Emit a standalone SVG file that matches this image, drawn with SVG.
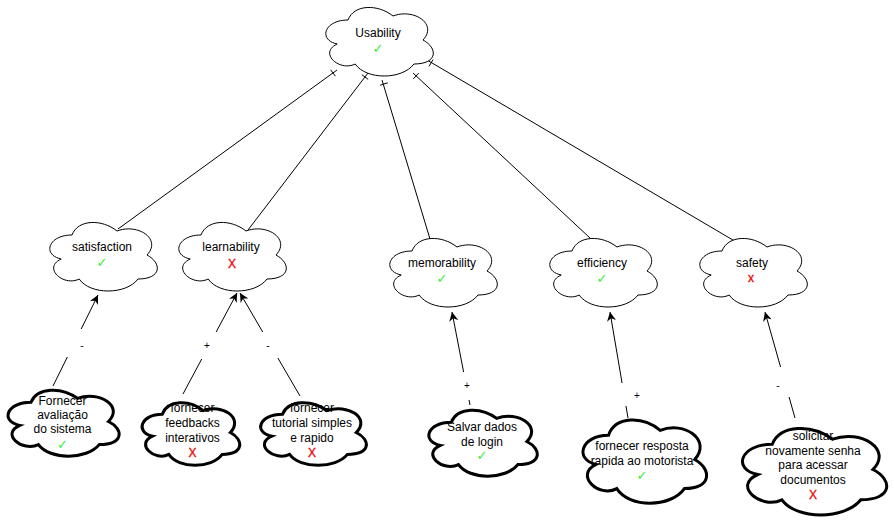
<svg xmlns="http://www.w3.org/2000/svg" xmlns:xlink="http://www.w3.org/1999/xlink" width="894" height="523" viewBox="0 0 894 523">
<style>
.c{fill:#fff;stroke:#000;vector-effect:non-scaling-stroke}
.c1{stroke-width:1}
.c3{stroke-width:3}
.t{font-family:"Liberation Sans",Arial,sans-serif;font-size:12px;fill:#000;text-anchor:middle}
.ok{font-family:"DejaVu Sans",sans-serif;font-size:13px;font-weight:bold;fill:#33ee33;text-anchor:middle}
.no{font-family:"Liberation Sans",Arial,sans-serif;font-size:12px;fill:#ee0000;text-anchor:middle;stroke:#ee0000;stroke-width:0.3}
.e{stroke:#000;stroke-width:1;fill:none}
.lb{fill:#fff;stroke:none}
.el{font-family:"Liberation Sans",Arial,sans-serif;font-size:10px;fill:#000;text-anchor:middle}
</style>
<defs>
<path id="cloud" class="c" d="M25,25 C5,25 0,50 16,55 C0,66 18,90 31,80 C40,100 70,100 80,80 C100,80 100,60 87.5,50 C100,30 80,10 62.5,20 C50,5 30,5 25,25 Z"/>
<marker id="arr" viewBox="0 0 10 10" refX="10" refY="5" markerWidth="9" markerHeight="9" markerUnits="userSpaceOnUse" orient="auto">
<path d="M0,0 L10,5 L0,10 L3,5 Z" fill="#000"/>
</marker>
</defs>
<rect width="894" height="523" fill="#fff"/>
<g id="connectors">
<line class="e" x1="118" y1="229" x2="337" y2="70"/>
<line class="e" x1="330.6" y1="69.8" x2="335.4" y2="76.2"/>
<line class="e" x1="248" y1="230" x2="368" y2="73"/>
<line class="e" x1="361.8" y1="74.6" x2="368.2" y2="79.4"/>
<line class="e" x1="430" y1="239" x2="382" y2="80"/>
<line class="e" x1="380.2" y1="85.2" x2="387.8" y2="82.8"/>
<line class="e" x1="590" y1="238" x2="413" y2="73"/>
<line class="e" x1="413.3" y1="78.9" x2="418.7" y2="73.1"/>
<line class="e" x1="738" y1="243" x2="427" y2="60"/>
<line class="e" x1="429" y1="66.4" x2="433" y2="59.6"/>
<line class="e" x1="53" y1="386" x2="98" y2="295" marker-end="url(#arr)"/>
<rect class="lb" x="64" y="329" width="26" height="28"/>
<text class="el" x="82" y="349">-</text>
<line class="e" x1="183" y1="394" x2="237" y2="293" marker-end="url(#arr)"/>
<rect class="lb" x="197" y="332" width="24" height="27"/>
<text class="el" x="207" y="348.5">+</text>
<line class="e" x1="300" y1="396" x2="240" y2="293" marker-end="url(#arr)"/>
<rect class="lb" x="258" y="332" width="26" height="26"/>
<text class="el" x="268" y="349">-</text>
<line class="e" x1="470" y1="405" x2="452" y2="312" marker-end="url(#arr)"/>
<rect class="lb" x="455" y="372" width="24" height="28"/>
<text class="el" x="467" y="388.5">+</text>
<line class="e" x1="628" y1="418" x2="610" y2="312" marker-end="url(#arr)"/>
<rect class="lb" x="618" y="383" width="30" height="23"/>
<text class="el" x="637" y="398.5">+</text>
<line class="e" x1="795" y1="418" x2="765" y2="312" marker-end="url(#arr)"/>
<rect class="lb" x="772" y="367" width="24" height="30"/>
<text class="el" x="778" y="389">-</text>
</g>
<g id="usability">
<use xlink:href="#cloud" class="c1" transform="translate(318,0) scale(1.2,0.8)"/>
<text class="t" x="378" y="37">Usability</text>
<text class="ok" x="378" y="53">✓</text>
</g>
<g id="satisfaction">
<use xlink:href="#cloud" class="c1" transform="translate(42,215) scale(1.2,0.8)"/>
<text class="t" x="102" y="251">satisfaction</text>
<text class="ok" x="102" y="267">✓</text>
</g>
<g id="learnability">
<use xlink:href="#cloud" class="c1" transform="translate(171,215) scale(1.2,0.8)"/>
<text class="t" x="231" y="251">learnability</text>
<text class="no" x="232" y="268">X</text>
</g>
<g id="memorability">
<use xlink:href="#cloud" class="c1" transform="translate(382,231) scale(1.2,0.8)"/>
<text class="t" x="442" y="267">memorability</text>
<text class="ok" x="442" y="283">✓</text>
</g>
<g id="efficiency">
<use xlink:href="#cloud" class="c1" transform="translate(542,231) scale(1.2,0.8)"/>
<text class="t" x="602" y="267">efficiency</text>
<text class="ok" x="602" y="283">✓</text>
</g>
<g id="safety">
<use xlink:href="#cloud" class="c1" transform="translate(692,231) scale(1.2,0.8)"/>
<text class="t" x="752" y="267">safety</text>
<text class="no" x="751" y="282">x</text>
</g>
<g id="avaliacao">
<use xlink:href="#cloud" class="c3" transform="translate(0,383) scale(1.24,0.77)"/>
<text class="t" x="62.5" y="405">Fornecer</text>
<text class="t" x="62.5" y="419">avaliação</text>
<text class="t" x="62.5" y="433">do sistema</text>
<text class="ok" x="62.5" y="449">✓</text>
</g>
<g id="feedbacks">
<use xlink:href="#cloud" class="c3" transform="translate(135,396) scale(1.09,0.73)"/>
<text class="t" x="192.5" y="412">fornecer</text>
<text class="t" x="192.5" y="427">feedbacks</text>
<text class="t" x="192.5" y="442">interativos</text>
<text class="no" x="192.5" y="457">X</text>
</g>
<g id="tutorial">
<use xlink:href="#cloud" class="c3" transform="translate(253,396) scale(1.18,0.73)"/>
<text class="t" x="312" y="412">fornecer</text>
<text class="t" x="312" y="427">tutorial simples</text>
<text class="t" x="312" y="442">e rapido</text>
<text class="no" x="312" y="457">X</text>
</g>
<g id="login">
<use xlink:href="#cloud" class="c3" transform="translate(421,403) scale(1.21,0.77)"/>
<text class="t" x="482" y="431">Salvar dados</text>
<text class="t" x="482" y="445.5">de login</text>
<text class="ok" x="482" y="460">✓</text>
</g>
<g id="resposta">
<use xlink:href="#cloud" class="c3" transform="translate(574,411) scale(1.38,0.97)"/>
<text class="t" x="642" y="450">fornecer resposta</text>
<text class="t" x="642" y="464.5">rapida ao motorista</text>
<text class="ok" x="642" y="480">✓</text>
</g>
<g id="senha">
<use xlink:href="#cloud" class="c3" transform="translate(732,419) scale(1.61,1.01)"/>
<text class="t" x="813" y="440">solicitar</text>
<text class="t" x="813" y="454.5">novamente senha</text>
<text class="t" x="813" y="469">para acessar</text>
<text class="t" x="813" y="483.5">documentos</text>
<text class="no" x="813" y="499">X</text>
</g>
</svg>
